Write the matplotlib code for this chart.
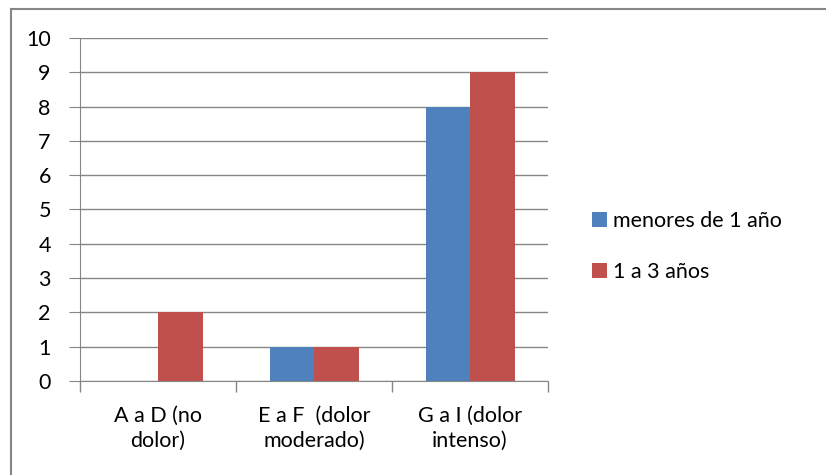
import matplotlib
matplotlib.use('Agg')
import matplotlib.pyplot as plt
import numpy as np
from matplotlib.lines import Line2D

# data
categories = ['A a D (no\ndolor)', 'E a F  (dolor\nmoderado)', 'G a I (dolor\nintenso)']
menores_1 = [0, 1, 8]
uno_a_tres = [2, 1, 9]
series_names = ['menores de 1 año', '1 a 3 años']

blue = '#4F81BD'
red = '#C0504D'
grid_col = '#868686'

plt.rcParams['font.family'] = ['Lato', 'DejaVu Sans']

fig = plt.figure(figsize=(8.26, 4.75), dpi=100)
ax = fig.add_axes([0.0969, 0.198, 0.5666, 0.722])

x = np.arange(len(categories))
w = 0.285
ax.bar(x - w / 2, menores_1, w, color=blue, label=series_names[0], zorder=3)
ax.bar(x + w / 2, uno_a_tres, w, color=red, label=series_names[1], zorder=3)

ax.set_xlim(-0.5, len(categories) - 0.5)
ax.set_ylim(0, 10)
ax.set_yticks(range(0, 11))
ax.yaxis.grid(True, color=grid_col, linewidth=1, zorder=0)
ax.set_axisbelow(True)

ax.set_xticks(x)
ax.set_xticklabels(categories, fontsize=15.5, linespacing=1.3)
ax.set_xticks(np.arange(-0.5, len(categories)), minor=True)
ax.tick_params(axis='x', which='major', length=0, pad=18)
ax.tick_params(axis='x', which='minor', length=8, color=grid_col, width=1)
ax.tick_params(axis='y', length=8, color=grid_col, labelsize=15.5, pad=13)

for s in ['top', 'right']:
    ax.spines[s].set_visible(False)
ax.spines['left'].set_color(grid_col)
ax.spines['bottom'].set_color(grid_col)

fig.legend(loc='center left', bbox_to_anchor=(0.706, 0.481), frameon=False,
           fontsize=15.5, handlelength=0.7, handleheight=0.7, handletextpad=0.3,
           labelspacing=1.4, borderaxespad=0)

# outer chart frame: only the top and left edges show in the reference
fig.lines.append(Line2D([11 / 826, 11 / 826], [0, 1 - 9 / 475], transform=fig.transFigure,
                        color=grid_col, linewidth=1.5))
fig.lines.append(Line2D([11 / 826, 1], [1 - 9 / 475, 1 - 9 / 475], transform=fig.transFigure,
                        color=grid_col, linewidth=1.5))

fig.savefig('out.png', dpi=100)
